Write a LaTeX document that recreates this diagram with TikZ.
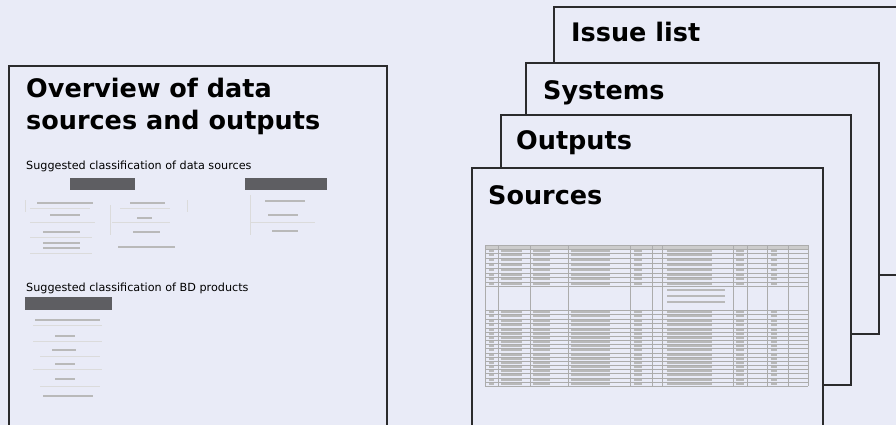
\documentclass[tikz,border=0pt]{standalone}
\usepackage{fontspec}
\setmainfont{DejaVu Sans}
\definecolor{slidebg}{HTML}{E9EBF7}
\definecolor{frameline}{HTML}{2B2B2D}
\definecolor{barfill}{HTML}{5E5E62}

\begin{document}
\begin{tikzpicture}[
                    x=1pt, y=-1pt,
                    page/.style={fill=slidebg, draw=frameline, line width=1.1pt},
                    pageedge/.style={draw=frameline, line width=1.8pt},
                    pagetitle/.style={anchor=base west, inner sep=0pt, font=\bfseries\fontsize{25.5}{30}\selectfont},
                    subhead/.style={anchor=base west, inner sep=0pt, font=\fontsize{11.2}{13}\selectfont},
                    bar/.style={fill=barfill},
                    thumbtext/.style={draw=gray!55, line width=1.2pt},
                    thumbrule/.style={draw=gray!28, line width=0.6pt},
                    gridline/.style={draw=gray!65, line width=0.45pt},
                    celltext/.style={draw=gray!55, line width=1.2pt}
                    ]

    \fill[slidebg] (0,0) rectangle (896,425);
    \useasboundingbox (0,0) rectangle (896,425);
    \clip (0,0) rectangle (896,425);

    % overview slide
    \draw[page] (9,66) rectangle (387,440);
    \node[pagetitle] (overview) at (26,98) {Overview of data};
    \node[pagetitle] (overview2) at (26,129) {sources and outputs};
    \node[subhead] (srchead) at (26,169) {Suggested classification of data sources};
    \node[subhead] (bdhead) at (26,291) {Suggested classification of BD products};

    % little classification sketches
    \fill[bar] (70,178) rectangle (135,190);
    \fill[bar] (245,178) rectangle (327,190);
    \fill[bar] (25,297) rectangle (112,310);
    \foreach \xa/\xb/\yy in {37/93/203, 50/80/215, 43/80/232, 43/80/243, 43/80/248,
                             130/165/203, 137/152/218, 133/160/232, 118/175/247,
                             265/305/201, 268/298/215, 272/298/231,
                             35/100/320, 55/75/336, 52/76/350, 55/75/364, 55/75/379, 43/93/396}
        \draw[thumbtext] (\xa,\yy) -- (\xb,\yy);
    \foreach \xa/\xb/\yy in {30/90/208, 30/95/222, 30/92/237, 30/92/253,
                             120/170/208, 112/170/222,
                             250/315/222,
                             33/102/325, 33/102/341, 40/100/356, 33/102/369, 40/100/386}
        \draw[thumbrule] (\xa,\yy) -- (\xb,\yy);
    \draw[thumbrule] (25,200) -- (25,212) (110,205) -- (110,235) (187,200) -- (187,212)
                     (250,195) -- (250,235);

    % stacked slides, back to front
    \draw[page] (554,7) rectangle (905,275);
    \draw[pageedge] (880,275) -- (905,275);
    \node[pagetitle] (issues) at (571,42) {Issue list};

    \draw[page] (526,63) rectangle (879,334);
    \draw[pageedge] (879,63) -- (879,334) -- (851,334);
    \node[pagetitle] (systems) at (543,100) {Systems};

    \draw[page] (501,115) rectangle (851,385);
    \draw[pageedge] (851,115) -- (851,385) -- (823,385);
    \node[pagetitle] (outputs) at (516,149) {Outputs};

    \draw[page] (472,168) rectangle (823,440);
    \draw[pageedge] (823,168) -- (823,440);
    \node[pagetitle] (sources) at (488,204) {Sources};

    % source table
    \fill[gray!40] (485,245) rectangle (808,249);
    \foreach \yy in {245,249,253,258,263,268,273,277,282,286,310,314,319,323,328,332,336,340,344,348,353,357,361,365,369,373,378,382,386}
        \draw[gridline] (485,\yy) -- (808,\yy);
    \foreach \xx in {485,498,530,568,630,652,662,733,747,767,788,808}
        \draw[gridline] (\xx,245) -- (\xx,386);
    \foreach \yy in {251,255,260,265,270,275,279,284,312,316,321,325,330,334,338,342,346,350,355,359,363,367,371,375,380,384}
        \foreach \xa/\xb in {489/494, 501/522, 533/550, 571/610, 634/642, 667/712, 736/744, 771/777}
            \draw[celltext] (\xa,\yy) -- (\xb,\yy);
    \foreach \yy in {290,296,302}
        \draw[celltext] (667,\yy) -- (725,\yy);
\end{tikzpicture}
\end{document}
